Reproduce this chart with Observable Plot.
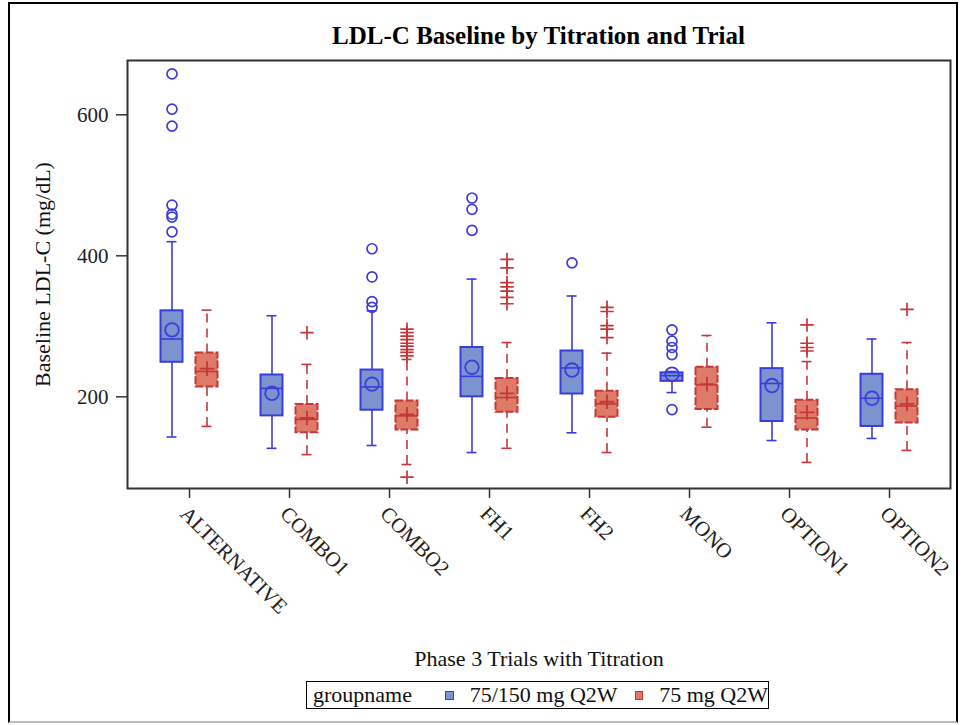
<!DOCTYPE html>
<html><head><meta charset="utf-8">
<script src="https://cdn.jsdelivr.net/npm/d3@7"></script>
<script src="https://cdn.jsdelivr.net/npm/@observablehq/plot@0.6"></script>
<style>
body{margin:0;background:#fff;font-family:"Liberation Serif","Times New Roman",serif;}
#wrap{position:relative;width:962px;height:725px;overflow:hidden;}
#border{position:absolute;left:8px;top:2px;width:950px;height:721px;box-sizing:border-box;border-left:2px solid #000;border-top:2px solid #000;border-right:2px solid #000;border-bottom:2px solid #bbb;}
#title{position:absolute;left:127px;width:823px;top:21px;text-align:center;font-weight:bold;font-size:25px;line-height:30px;color:#000;}
#chart{position:absolute;left:0;top:50px;}
#legend{position:absolute;left:306px;top:681px;width:463px;height:28px;box-sizing:border-box;border:1.5px solid #000;display:flex;align-items:center;font-size:22px;color:#111;white-space:nowrap;}
.sw{display:inline-block;width:9px;height:9px;box-sizing:border-box;}
</style></head><body>
<div id="wrap">
  <div id="border"></div>
  <div id="title">LDL-C Baseline by Titration and Trial</div>
  <div id="chart"></div>
  <div id="legend">
    <span style="margin-left:6px">groupname</span>
    <span class="sw" id="sw1" style="margin-left:33px"></span>
    <span style="margin-left:16px" id="lg1"></span>
    <span class="sw" id="sw2" style="margin-left:17px"></span>
    <span style="margin-left:16px" id="lg2"></span>
  </div>
</div>
<script>
const trials = ["ALTERNATIVE","COMBO1","COMBO2","FH1","FH2","MONO","OPTION1","OPTION2"];
const groups = ["75/150 mg Q2W","75 mg Q2W"];
const yTicks = [200,400,600];
const xTitle = "Phase 3 Trials with Titration";
const yTitle = "Baseline LDL-C (mg/dL)";

// 75/150 mg Q2W
const aLow  = [143,127,131,121,149,206,138,141];
const aQ1   = [249,173,181,200,204,222,165,158];
const aMed  = [282,212,214,229,241,230,219,198];
const aQ3   = [322,231,238,270,265,234,240,232];
const aHigh = [420,315,322,367,343,236,305,282];
const aMean = [295,205,218,242,238,232,216,198];
const aOutliers = [
  ["ALTERNATIVE",434],["ALTERNATIVE",455],["ALTERNATIVE",459],["ALTERNATIVE",472],
  ["ALTERNATIVE",584],["ALTERNATIVE",608],["ALTERNATIVE",658],
  ["COMBO2",327],["COMBO2",335],["COMBO2",370],["COMBO2",410],
  ["FH1",436],["FH1",466],["FH1",482],
  ["FH2",390],
  ["MONO",182],["MONO",260],["MONO",270],["MONO",279],["MONO",295]
];

// 75 mg Q2W
const bLow  = [158,118,104,127,121,157,107,124];
const bQ1   = [214,149,153,178,171,182,153,163];
const bMed  = [236,168,173,199,190,217,170,187];
const bQ3   = [262,189,194,226,208,242,195,210];
const bHigh = [323,246,253,277,262,287,250,277];
const bMean = [240,170,175,205,193,218,178,190];
const bOutliers = [
  ["COMBO1",291],
  ["COMBO2",86],["COMBO2",258],["COMBO2",263],["COMBO2",267],["COMBO2",272],
  ["COMBO2",276],["COMBO2",281],["COMBO2",286],["COMBO2",291],["COMBO2",296],
  ["FH1",332],["FH1",341],["FH1",350],["FH1",356],["FH1",362],["FH1",383],["FH1",395],
  ["FH2",284],["FH2",296],["FH2",301],["FH2",321],["FH2",327],
  ["OPTION1",265],["OPTION1",270],["OPTION1",276],["OPTION1",302],
  ["OPTION2",324]
];

const blueCol = {fill:"#7b93cf", stroke:"#3c3cdc"};
const redCol  = {fill:"#de7a66", stroke:"#c4373a"};

document.getElementById("sw1").style.cssText += `background:${blueCol.fill};border:1px solid ${blueCol.stroke};`;
document.getElementById("sw2").style.cssText += `background:${redCol.fill};border:1px solid ${redCol.stroke};`;
document.getElementById("lg1").textContent = groups[0];
document.getElementById("lg2").textContent = groups[1];

const mk = (g, low, q1, med, q3, high, mean) =>
  trials.map((t, i) => ({trial: t, group: g, low: low[i], q1: q1[i], med: med[i], q3: q3[i], high: high[i], mean: mean[i]}));
const A = mk(groups[0], aLow, aQ1, aMed, aQ3, aHigh, aMean);
const B = mk(groups[1], bLow, bQ1, bMed, bQ3, bHigh, bMean);
const Aout = aOutliers.map(([trial, value]) => ({trial, value}));
const Bout = bOutliers.map(([trial, value]) => ({trial, value}));

const off = 17.5;
function boxMarks(rows, outs, side, col, opts) {
  const dx = side * off;
  const boxIn = side < 0 ? {insetLeft: 21.5, insetRight: 56.5} : {insetLeft: 56.5, insetRight: 21.5};
  const capIn = side < 0 ? {insetLeft: 27.5, insetRight: 62.5} : {insetLeft: 62.5, insetRight: 27.5};
  return [
    Plot.ruleX(rows, {x: "trial", y1: "q3", y2: "high", dx, stroke: col.stroke, strokeWidth: 1.6, strokeDasharray: opts.whiskerDash}),
    Plot.ruleX(rows, {x: "trial", y1: "low", y2: "q1", dx, stroke: col.stroke, strokeWidth: 1.6, strokeDasharray: opts.whiskerDash}),
    Plot.tickY(rows, {x: "trial", y: "high", ...capIn, stroke: col.stroke, strokeWidth: 1.6}),
    Plot.tickY(rows, {x: "trial", y: "low", ...capIn, stroke: col.stroke, strokeWidth: 1.6}),
    Plot.barY(rows, {x: "trial", y1: "q1", y2: "q3", ...boxIn, fill: col.fill, stroke: col.stroke, strokeWidth: 2, strokeDasharray: opts.boxDash}),
    Plot.tickY(rows, {x: "trial", y: "med", ...boxIn, stroke: col.stroke, strokeWidth: 1.6}),
    Plot.dot(rows, {x: "trial", y: "mean", dx, symbol: opts.meanSymbol, r: opts.meanR, stroke: col.stroke, fill: "none", strokeWidth: 1.8}),
    Plot.dot(outs, {x: "trial", y: "value", dx, symbol: opts.outSymbol, r: opts.outR, stroke: col.stroke, fill: "none", strokeWidth: 1.7})
  ];
}

const chart = Plot.plot({
  width: 962,
  height: 625,
  marginLeft: 127,
  marginRight: 12,
  marginTop: 10,
  marginBottom: 187,
  style: {fontFamily: "'Liberation Serif','Times New Roman',serif", fontSize: "21px", color: "#222", background: "transparent"},
  x: {type: "band", domain: trials, paddingInner: 0, paddingOuter: 0.115},
  y: {domain: [70, 677]},
  marks: [
    Plot.axisY({ticks: yTicks, tickSize: 11, tickPadding: 8, label: null, stroke: "#333", strokeWidth: 1.5}),
    Plot.axisX({tickRotate: 45, tickSize: 10, tickPadding: 6, lineAnchor: "top", label: null, stroke: "#333", strokeWidth: 1.5}),
    ...boxMarks(A, Aout, -1, blueCol, {whiskerDash: null, boxDash: null, meanSymbol: "circle", meanR: 6.8, outSymbol: "circle", outR: 5}),
    ...boxMarks(B, Bout, 1, redCol, {whiskerDash: "9,6", boxDash: "8,2", meanSymbol: "plus", meanR: 4.8, outSymbol: "plus", outR: 4.4}),
    Plot.text([yTitle], {frameAnchor: "left", dx: -85, rotate: -90, textAnchor: "middle", lineAnchor: "middle", fontSize: 22, fill: "#111"}),
    Plot.text([xTitle], {frameAnchor: "bottom", dy: 170, textAnchor: "middle", lineAnchor: "middle", fontSize: 22, fill: "#111"}),
    Plot.frame({stroke: "#333", strokeWidth: 2})
  ]
});
document.getElementById("chart").appendChild(chart);
</script>
</body></html>
